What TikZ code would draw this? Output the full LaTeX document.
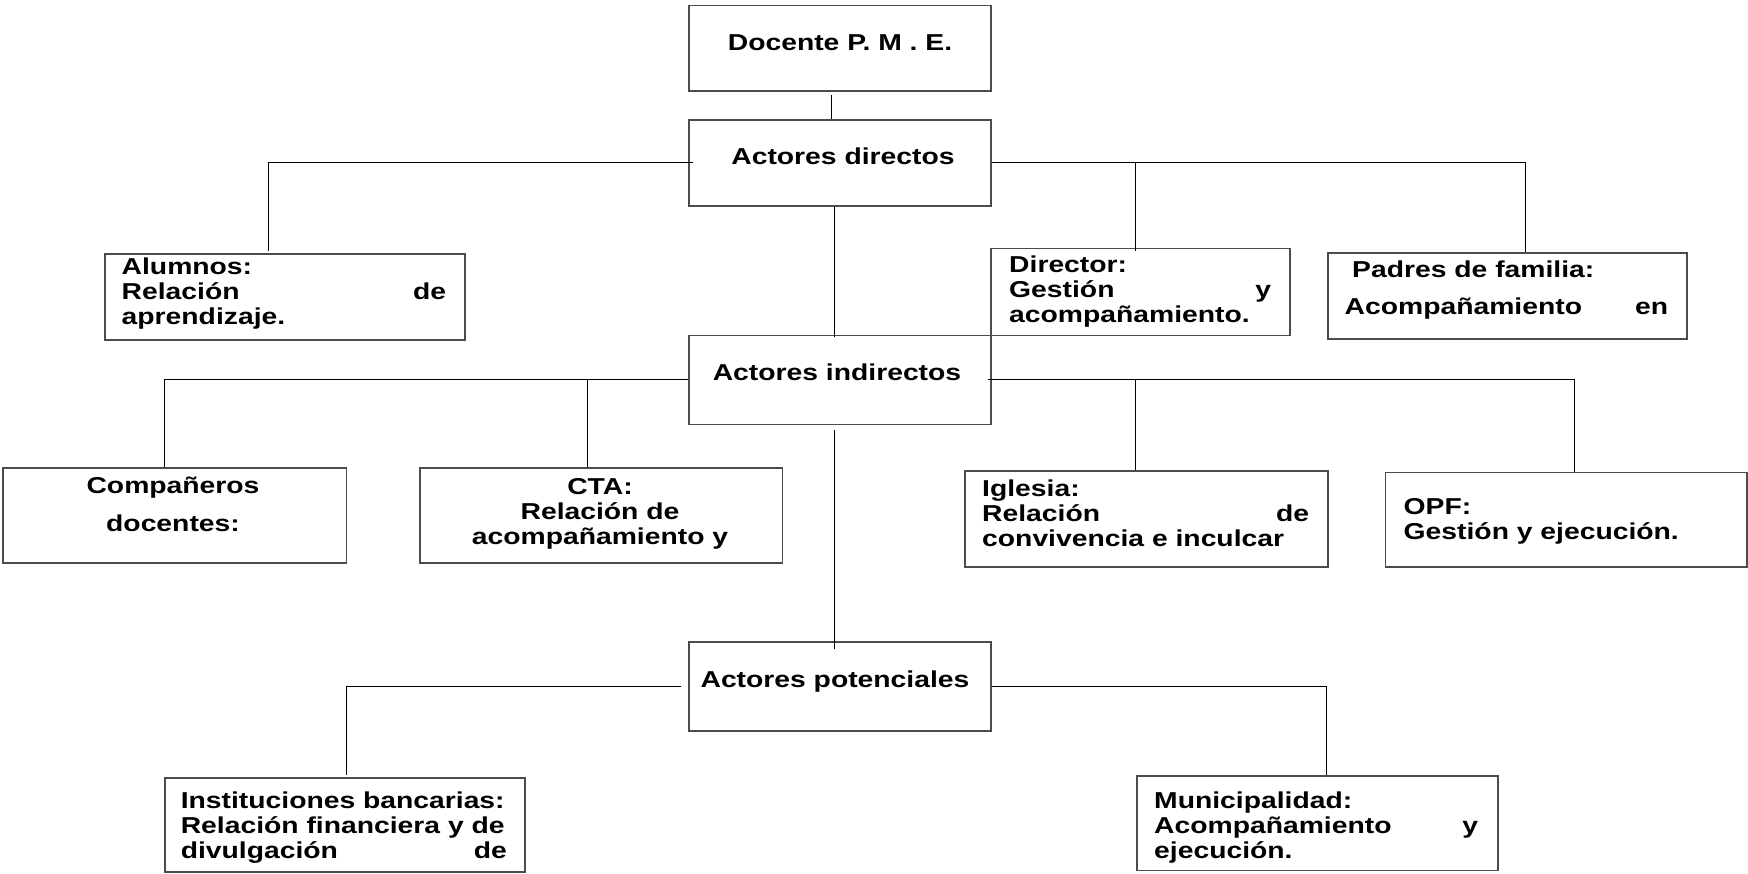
\documentclass[tikz,border=0pt]{standalone}
\usepackage{fontspec}
\newfontfamily\dfont{Liberation Sans}[FakeStretch=1.23]
\begin{document}
\begin{tikzpicture}[x=1pt,y=-1pt,
  box/.style={draw=black!70, line width=1.5pt, inner sep=0pt, anchor=north west},
  conn/.style={draw=black, line width=1.3pt},
  txt/.style={inner sep=0pt, font=\dfont\bfseries\fontsize{23}{25}\selectfont},
]
\useasboundingbox (0,0) rectangle (1748,873);
% boxes
\node[box, minimum width=302pt, minimum height=85.5pt] (docente) at (688,4.5) {};
\node[box, minimum width=302pt, minimum height=86pt] (ad) at (688,119) {};
\node[box, minimum width=360pt, minimum height=86pt] (alumnos) at (104,253) {};
\node[box, minimum width=299pt, minimum height=87pt] (director) at (990,247.5) {};
\node[box, minimum width=359pt, minimum height=86pt] (padres) at (1327,252) {};
\node[box, minimum width=302pt, minimum height=89pt] (ai) at (688,334.5) {};
\node[box, minimum width=343.6pt, minimum height=95pt] (comp) at (2,467) {};
\node[box, minimum width=362.5pt, minimum height=95pt] (cta) at (419,467) {};
\node[box, minimum width=363pt, minimum height=96pt] (iglesia) at (964,470) {};
\node[box, minimum width=361.4pt, minimum height=94.5pt] (opf) at (1384.6,471.5) {};
\node[box, minimum width=302pt, minimum height=89pt] (ap) at (688,641) {};
\node[box, minimum width=360pt, minimum height=94pt] (inst) at (164,777) {};
\node[box, minimum width=361pt, minimum height=94.5pt] (muni) at (1136,775) {};
% texts
\node[txt, anchor=base] (docente-t) at (840,50.7) {Docente P. M . E.};
\node[txt, anchor=base] (ad-t) at (843,164) {Actores directos};
\node[txt, anchor=base] (ai-t) at (837,380.5) {Actores indirectos};
\node[txt, anchor=base] (ap-t) at (835,687) {Actores potenciales};
\node[txt, anchor=base west] (alumnos-t) at (121.5,274.5) {\parbox[t]{324.5pt}{Alumnos:\\Relación\hfill de\\aprendizaje.}};
\node[txt, anchor=base west] (director-t) at (1009,272) {\parbox[t]{262pt}{Director:\\Gestión\hfill y\\acompañamiento.}};
\node[txt, anchor=base west] (padres-t) at (1344.5,277) {\parbox[t]{323.5pt}{\hspace*{7.5pt}Padres de familia:\\[12.7pt]Acompañamiento\hfill en}};
\node[txt, anchor=base] (comp-t) at (173,493) {\begin{tabular}[t]{@{}c@{}}Compañeros\\[13pt]docentes:\end{tabular}};
\node[txt, anchor=base] (cta-t) at (600,494) {\begin{tabular}[t]{@{}c@{}}CTA:\\Relación de\\acompañamiento y\end{tabular}};
\node[txt, anchor=base west] (iglesia-t) at (982,496.4) {\parbox[t]{327pt}{Iglesia:\\Relación\hfill de\\convivencia e inculcar}};
\node[txt, anchor=base west] (opf-t) at (1403.5,514) {\parbox[t]{330pt}{OPF:\\Gestión y ejecución.}};
\node[txt, anchor=base west] (inst-t) at (180.6,808) {\parbox[t]{326pt}{Instituciones bancarias:\\Relación financiera y de\\divulgación\hfill de}};
\node[txt, anchor=base west] (muni-t) at (1154,808) {\parbox[t]{324pt}{Municipalidad:\\Acompañamiento\hfill y\\ejecución.}};
% connectors
\draw[conn] ([xshift=-8.5pt,yshift=-3.5pt]docente.south) -- ([xshift=-8.5pt]ad.north);
\draw[conn] ([xshift=5pt]ad.west) -| ([xshift=-16.5pt,yshift=2pt]alumnos.north);
\draw[conn] (ad.east) -| ([xshift=18.5pt]padres.north);
\draw[conn] ([xshift=-4.5pt,yshift=-3pt]director.north) -- ([xshift=-4.5pt]director.north |- ad.east);
\draw[conn] ([xshift=-5pt]ad.south) -- ([xshift=-5pt,yshift=-2pt]ai.north);
\draw[conn] (ai.west) -| ([xshift=-9.8pt]comp.north);
\draw[conn] ([xshift=-13.8pt]cta.north) -- ([xshift=-13.8pt]cta.north |- ai.west);
\draw[conn] ([xshift=-3.4pt]ai.east) -| ([xshift=8.7pt]opf.north);
\draw[conn] ([xshift=-10.5pt]iglesia.north) -- ([xshift=-10.5pt]iglesia.north |- ai.east);
\draw[conn] ([xshift=-5pt,yshift=-5.4pt]ai.south) -- ([xshift=-5pt,yshift=-8pt]ap.north);
\draw[conn] ([xshift=-7pt]ap.west) -| ([xshift=1.6pt,yshift=2pt]inst.north);
\draw[conn] (ap.east) -| ([xshift=9pt]muni.north);
\end{tikzpicture}
\end{document}
